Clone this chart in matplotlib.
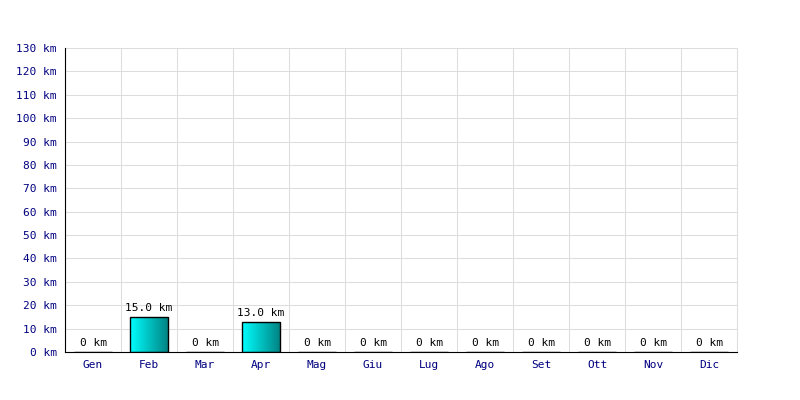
import matplotlib
matplotlib.use("Agg")
import matplotlib.pyplot as plt
import numpy as np

months = ["Gen", "Feb", "Mar", "Apr", "Mag", "Giu", "Lug", "Ago", "Set", "Ott", "Nov", "Dic"]
km = [0, 15.0, 0, 13.0, 0, 0, 0, 0, 0, 0, 0, 0]
yticks = list(range(0, 140, 10))

plt.rcParams['font.family'] = ['DejaVu Sans Mono']

fig = plt.figure(figsize=(8, 4), dpi=100)
ax = fig.add_axes([65/800, 48/400, 672/800, 304/400])

x = np.arange(len(months))
bars = ax.bar(x, km, width=0.68, color='none', edgecolor='black', linewidth=1, zorder=3)

# gradient fill cyan -> teal
grad = np.linspace(0, 1, 256).reshape(1, -1)
cmap = matplotlib.colors.LinearSegmentedColormap.from_list("cy", ["#00ffff", "#008080"])
for b in bars:
    if b.get_height() > 0:
        x0 = b.get_x()
        im = ax.imshow(grad, cmap=cmap, aspect='auto', zorder=2,
                       extent=[x0, x0 + b.get_width(), 0, b.get_height()])
        im.set_clip_path(b)

for i, v in enumerate(km):
    label = "0 km" if v == 0 else f"{v:.1f} km"
    ax.text(i, v + 1.5, label, ha='center', va='bottom', fontsize=8, color='black')

ax.set_xlim(-0.5, len(months) - 0.5)
ax.set_ylim(0, 130)
ax.set_xticks(x)
ax.set_xticklabels(months)
ax.set_yticks(yticks)
ax.set_yticklabels([f"{t} km" for t in yticks])
ax.tick_params(axis='both', length=0, labelsize=8, colors='#000080', pad=6)

ax.set_xticks(np.arange(-0.5, len(months)), minor=True)
ax.tick_params(axis='x', which='minor', length=0)
ax.grid(True, which='minor', axis='x', color='#dddddd', linewidth=0.75)
ax.grid(True, which='major', axis='y', color='#dddddd', linewidth=0.75)
ax.set_axisbelow(True)

ax.spines['top'].set_visible(False)
ax.spines['right'].set_color('#dddddd')
ax.spines['right'].set_linewidth(0.75)
ax.spines['left'].set_color('black')
ax.spines['bottom'].set_color('black')

fig.savefig("out.png", dpi=100)
